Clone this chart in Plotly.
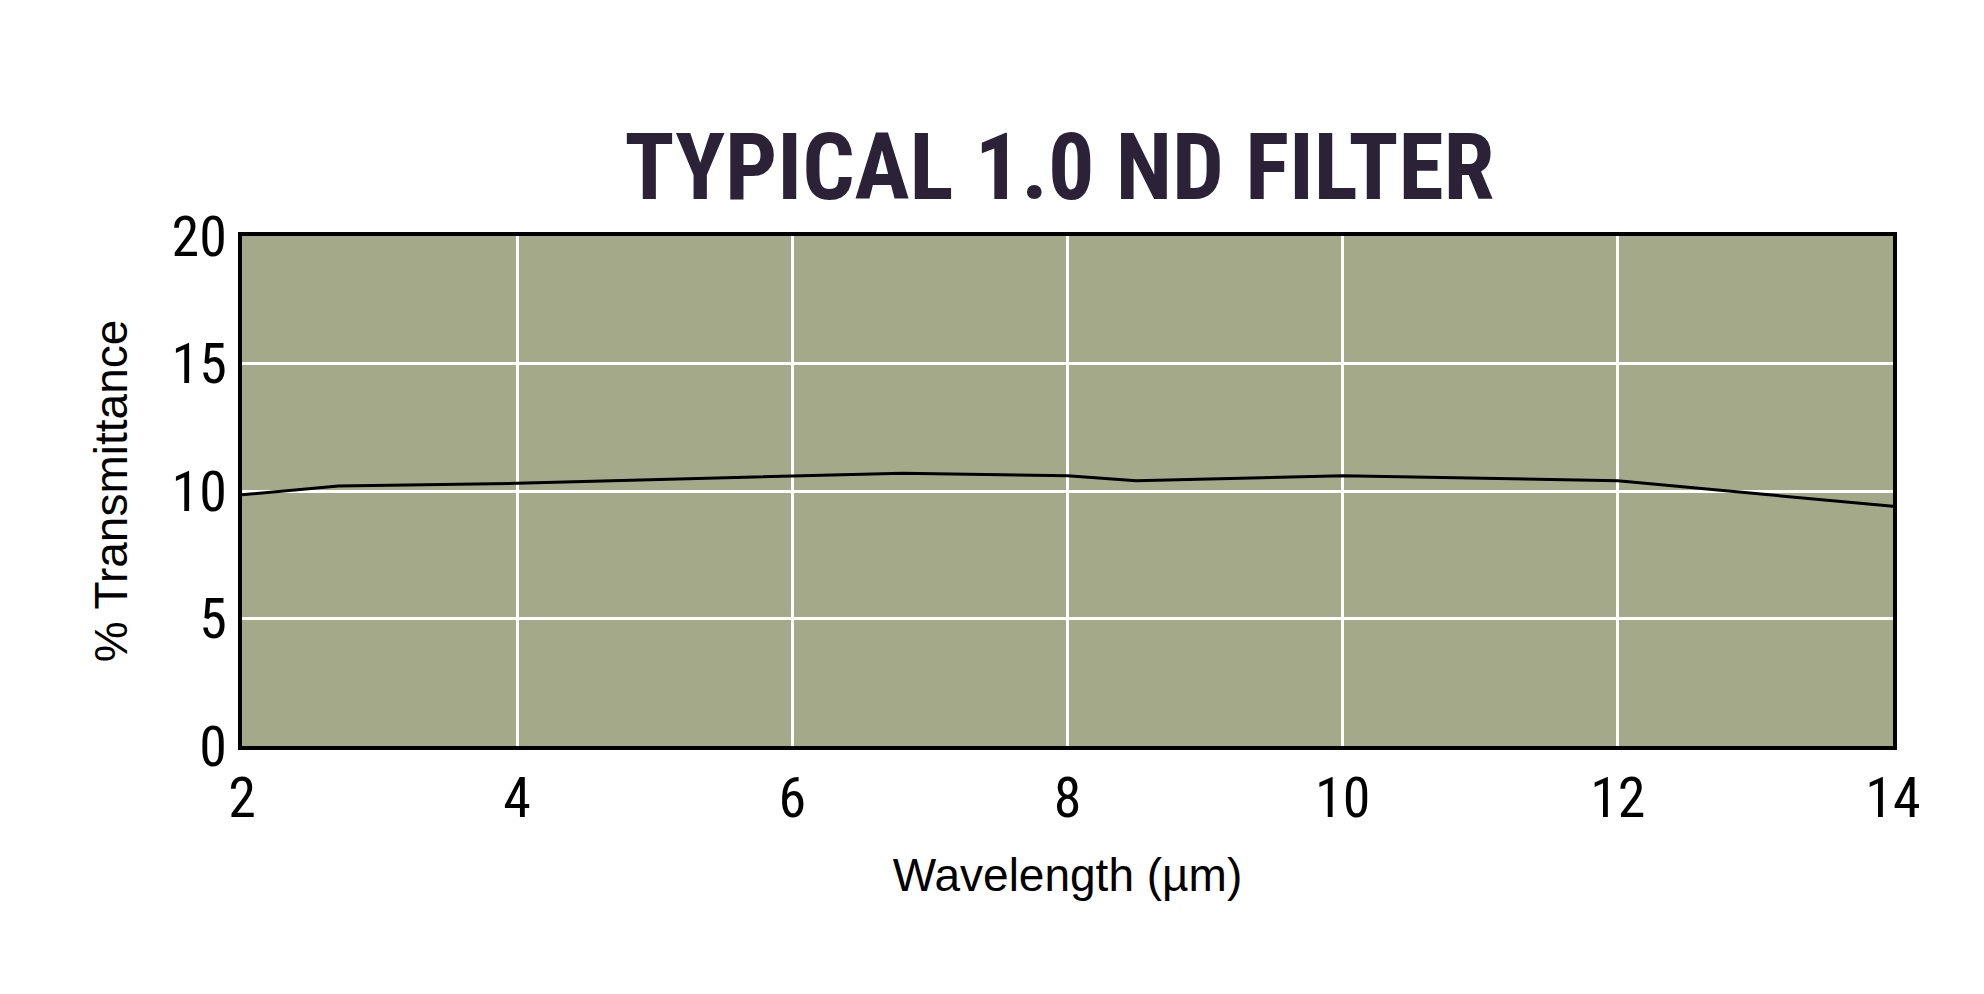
import plotly.graph_objects as go

wavelength = [2.0, 2.7, 4.0, 5.0, 6.0, 6.8, 8.0, 8.5, 10.0, 11.0, 12.0, 13.0, 14.0]
transmittance = [9.85, 10.2, 10.3, 10.45, 10.6, 10.7, 10.6, 10.4, 10.6, 10.5, 10.4, 9.9, 9.4]

x_ticks = [2, 4, 6, 8, 10, 12, 14]
y_ticks = [0, 5, 10, 15, 20]

narrow = "Liberation Sans Narrow, Arial Narrow, Roboto Condensed, sans-serif"

fig = go.Figure(go.Scatter(x=wavelength, y=transmittance, mode="lines",
                           line=dict(color="black", width=3), showlegend=False))

fig.update_layout(
    width=1984, height=994,
    paper_bgcolor="white", plot_bgcolor="#a4a98a",
    margin=dict(l=234, r=99, t=228, b=256),
    title=dict(text="<b>TYPICAL 1.0 ND FILTER</b>", x=0.53, xanchor="center",
               y=0.84, yanchor="middle",
               font=dict(family=narrow, size=92, color="#2b2238")),
)
fig.update_xaxes(range=[2, 14], tickvals=x_ticks, showgrid=True, gridcolor="white", gridwidth=3,
                 showline=True, linecolor="black", linewidth=4, mirror=True, zeroline=False,
                 ticks="", ticklen=0,
                 tickfont=dict(family=narrow, size=56, color="black"),
                 title=dict(text="Wavelength (µm)", standoff=30,
                            font=dict(family="Liberation Sans, Arial", size=46, color="black")))
fig.update_yaxes(range=[0, 20], tickvals=y_ticks, showgrid=True, gridcolor="white", gridwidth=3,
                 showline=True, linecolor="black", linewidth=4, mirror=True, zeroline=False,
                 ticks="", ticklen=0,
                 tickfont=dict(family=narrow, size=56, color="black"),
                 title=dict(text="% Transmittance", standoff=30,
                            font=dict(family="Liberation Sans, Arial", size=46, color="black")))

fig.write_html("out.html")
